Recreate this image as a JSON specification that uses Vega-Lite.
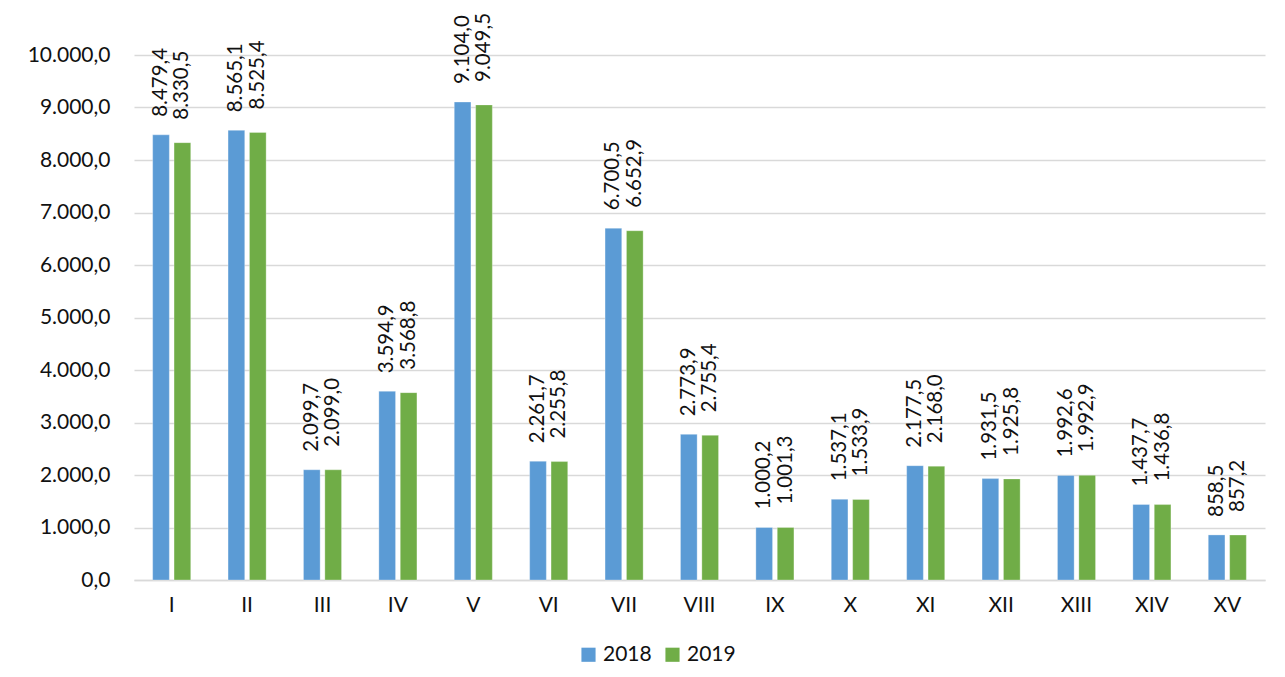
{
  "$schema": "https://vega.github.io/schema/vega-lite/v6.json",
  "width": 1131,
  "height": 525,
  "autosize": {"type": "none"},
  "padding": {"left": 134, "top": 55, "right": 20, "bottom": 97},
  "background": "white",
  "config": {
    "locale": {"number": {"decimal": ",", "thousands": ".", "grouping": [3], "currency": ["", " €"]}},
    "font": "Lato",
    "view": {"stroke": null},
    "axis": {"labelFont": "Lato", "labelFontSize": 21, "labelColor": "#111111"}
  },
  "data": {
    "values": [
      {"cat": "I", "year": "2018", "value": 8479.4},
      {"cat": "I", "year": "2019", "value": 8330.5},
      {"cat": "II", "year": "2018", "value": 8565.1},
      {"cat": "II", "year": "2019", "value": 8525.4},
      {"cat": "III", "year": "2018", "value": 2099.7},
      {"cat": "III", "year": "2019", "value": 2099.0},
      {"cat": "IV", "year": "2018", "value": 3594.9},
      {"cat": "IV", "year": "2019", "value": 3568.8},
      {"cat": "V", "year": "2018", "value": 9104.0},
      {"cat": "V", "year": "2019", "value": 9049.5},
      {"cat": "VI", "year": "2018", "value": 2261.7},
      {"cat": "VI", "year": "2019", "value": 2255.8},
      {"cat": "VII", "year": "2018", "value": 6700.5},
      {"cat": "VII", "year": "2019", "value": 6652.9},
      {"cat": "VIII", "year": "2018", "value": 2773.9},
      {"cat": "VIII", "year": "2019", "value": 2755.4},
      {"cat": "IX", "year": "2018", "value": 1000.2},
      {"cat": "IX", "year": "2019", "value": 1001.3},
      {"cat": "X", "year": "2018", "value": 1537.1},
      {"cat": "X", "year": "2019", "value": 1533.9},
      {"cat": "XI", "year": "2018", "value": 2177.5},
      {"cat": "XI", "year": "2019", "value": 2168.0},
      {"cat": "XII", "year": "2018", "value": 1931.5},
      {"cat": "XII", "year": "2019", "value": 1925.8},
      {"cat": "XIII", "year": "2018", "value": 1992.6},
      {"cat": "XIII", "year": "2019", "value": 1992.9},
      {"cat": "XIV", "year": "2018", "value": 1437.7},
      {"cat": "XIV", "year": "2019", "value": 1436.8},
      {"cat": "XV", "year": "2018", "value": 858.5},
      {"cat": "XV", "year": "2019", "value": 857.2}
    ]
  },
  "encoding": {
    "x": {
      "field": "cat", "type": "nominal", "sort": null, "title": null,
      "scale": {"paddingInner": 0.495, "paddingOuter": 0.2475},
      "axis": {"labelAngle": 0, "ticks": false, "domainColor": "#d9d9d9", "domainWidth": 1.5, "labelPadding": 14, "grid": false}
    },
    "xOffset": {"field": "year", "type": "nominal", "scale": {"paddingInner": 0.22, "paddingOuter": 0}},
    "y": {
      "field": "value", "type": "quantitative", "title": null,
      "scale": {"domain": [0, 10000], "nice": false},
      "axis": {"values": [0, 1000, 2000, 3000, 4000, 5000, 6000, 7000, 8000, 9000, 10000], "format": ",.1f", "domain": false, "ticks": false, "labelPadding": 24, "gridColor": "#d9d9d9", "gridWidth": 1.5}
    }
  },
  "layer": [
    {
      "mark": {"type": "bar", "stroke": "white", "strokeWidth": 0.5, "strokeOpacity": 0.6},
      "encoding": {
        "color": {
          "field": "year", "type": "nominal",
          "scale": {"domain": ["2018", "2019"], "range": ["#5B9BD5", "#70AD47"]},
          "legend": {"title": null, "orient": "none", "legendX": 444, "legendY": 589, "direction": "horizontal", "symbolType": "square", "symbolSize": 200, "symbolStrokeWidth": 0, "labelFontSize": 21, "labelFont": "Lato", "labelColor": "#111111", "columnPadding": 10, "labelOffset": 4}
        }
      }
    },
    {
      "transform": [{"filter": "datum.year === '2018'"}],
      "mark": {"type": "text", "angle": 270, "align": "left", "baseline": "middle", "dx": 18, "fontSize": 20.5, "font": "Lato", "color": "#111111"},
      "encoding": {"text": {"field": "value", "type": "quantitative", "format": ",.1f"}}
    },
    {
      "transform": [{"filter": "datum.year === '2019'"}],
      "mark": {"type": "text", "angle": 270, "align": "left", "baseline": "middle", "dx": 23, "fontSize": 20.5, "font": "Lato", "color": "#111111"},
      "encoding": {"text": {"field": "value", "type": "quantitative", "format": ",.1f"}}
    }
  ]
}
